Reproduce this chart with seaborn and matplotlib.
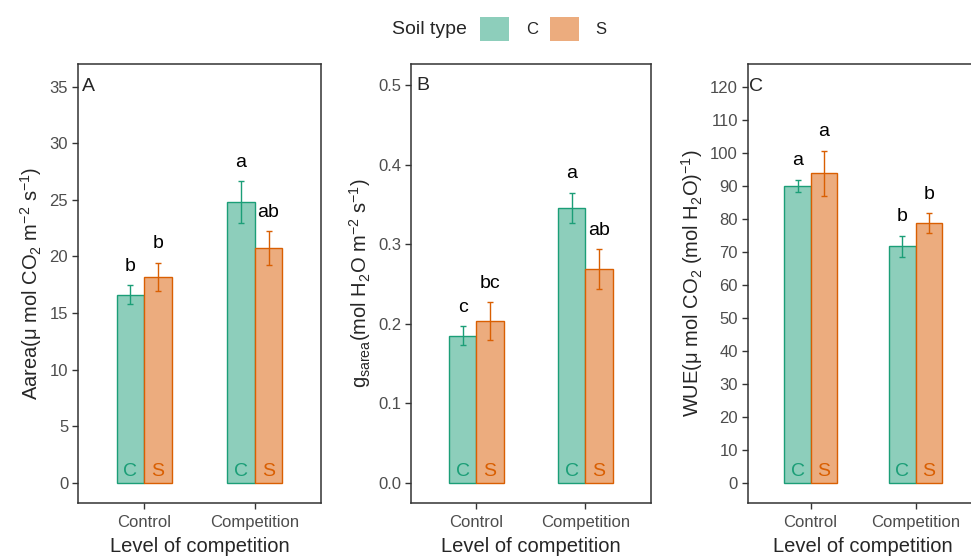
import pandas as pd
import matplotlib.pyplot as plt
import seaborn as sns
from matplotlib.patches import Patch

# values
levels = ["Control", "Competition"]
soils = ["C", "S"]

aarea_c = [16.6, 24.8]
aarea_s = [18.2, 20.7]
aarea_se_c = [0.85, 1.85]
aarea_se_s = [1.25, 1.5]
aarea_let_c = ["b", "a"]
aarea_let_s = ["b", "ab"]

gs_c = [0.185, 0.346]
gs_s = [0.203, 0.269]
gs_se_c = [0.012, 0.019]
gs_se_s = [0.024, 0.025]
gs_let_c = ["c", "a"]
gs_let_s = ["bc", "ab"]

wue_c = [90.0, 71.7]
wue_s = [93.8, 78.6]
wue_se_c = [1.8, 3.2]
wue_se_s = [6.8, 3.0]
wue_let_c = ["a", "b"]
wue_let_s = ["a", "b"]

fill_cols = {"C": "#8DCEBB", "S": "#ECAC7E"}
edge_cols = {"C": "#1B9E77", "S": "#D95F02"}

sns.set_style("white")
plt.rcParams["font.family"] = ["Liberation Sans", "DejaVu Sans"]
plt.rcParams["mathtext.fontset"] = "custom"
plt.rcParams["mathtext.rm"] = "Liberation Sans"
plt.rcParams["mathtext.it"] = "Liberation Sans:italic"


def make_df(vc, vs, sc, ss, lc, ls):
    rows = []
    for i, lev in enumerate(levels):
        rows.append({"level": lev, "soil": "C", "value": vc[i], "se": sc[i], "let": lc[i]})
        rows.append({"level": lev, "soil": "S", "value": vs[i], "se": ss[i], "let": ls[i]})
    return pd.DataFrame(rows)


panels = [
    dict(df=make_df(aarea_c, aarea_s, aarea_se_c, aarea_se_s, aarea_let_c, aarea_let_s),
         ylabel="Aarea(μ mol CO$_2$ m$^{-2}$ s$^{-1}$)", tag="A",
         ylim=(-1.77, 37.0), ticks=[0, 5, 10, 15, 20, 25, 30, 35], fmt="{:g}",
         pos=[0.0803, 0.0959, 0.2503, 0.789], tagx=-0.56),
    dict(df=make_df(gs_c, gs_s, gs_se_c, gs_se_s, gs_let_c, gs_let_s),
         ylabel="g$_{\\mathrm{sarea}}$(mol H$_2$O m$^{-2}$ s$^{-1}$)", tag="B",
         ylim=(-0.0252, 0.527), ticks=[0, 0.1, 0.2, 0.3, 0.4, 0.5], fmt="{:.1f}",
         pos=[0.4233, 0.0959, 0.2469, 0.789], tagx=-0.555),
    dict(df=make_df(wue_c, wue_s, wue_se_c, wue_se_s, wue_let_c, wue_let_s),
         ylabel="WUE(μ mol CO$_2$ (mol H$_2$O)$^{-1}$)", tag="C",
         ylim=(-6.06, 126.9), ticks=list(range(0, 121, 10)), fmt="{:g}",
         pos=[0.7700, 0.0959, 0.2377, 0.789], tagx=-0.59),
]

fig = plt.figure(figsize=(9.71, 5.56), dpi=100)

for p in panels:
    ax = fig.add_axes(p["pos"])
    df = p["df"]
    ymax = p["ticks"][-1]
    sns.barplot(data=df, x="level", y="value", hue="soil", order=levels, hue_order=soils,
                palette=fill_cols, width=0.5, saturation=1, errorbar=None,
                legend=False, ax=ax)
    for cont, soil in zip(ax.containers, soils):
        sub = df[df["soil"] == soil].set_index("level").loc[levels]
        for bar, (_, r) in zip(cont, sub.iterrows()):
            bar.set_edgecolor(edge_cols[soil])
            bar.set_linewidth(1.0)
            xc = bar.get_x() + bar.get_width() / 2
            ax.errorbar(xc, r["value"], yerr=r["se"], color=edge_cols[soil],
                        capsize=2.3, lw=1.0, capthick=1.0)
            ax.text(xc, r["value"] + r["se"] + 0.048 * ymax, r["let"],
                    ha="center", va="center", fontsize=14, color="black")
            ax.annotate(soil, (xc, 0), xytext=(0, 4.5), textcoords="offset points",
                        ha="center", va="baseline", fontsize=14, color=edge_cols[soil])

    ax.set_xlim(-0.6, 1.6)
    ax.set_ylim(*p["ylim"])
    ax.set_yticks(p["ticks"])
    ax.set_yticklabels([p["fmt"].format(t) for t in p["ticks"]])
    ax.text(p["tagx"], ymax, p["tag"], ha="left", va="center", fontsize=14)
    ax.set_xlabel("Level of competition", fontsize=14.5, labelpad=5)
    ax.set_ylabel(p["ylabel"], fontsize=14.5, labelpad=4)
    ax.tick_params(axis="both", which="both", direction="out", length=4, width=1,
                   color="#333333", labelcolor="#4D4D4D", labelsize=12,
                   left=True, bottom=True, pad=3)
    ax.tick_params(axis="x", pad=5)
    for s in ax.spines.values():
        s.set_visible(True)
        s.set_color("#333333")
        s.set_linewidth(1.1)

# legend across the top
fig.text(392 / 971, 1 - 30 / 556, "Soil type", ha="left", va="center", fontsize=14)
handles = [Patch(facecolor=fill_cols[s], edgecolor="none", label=s) for s in soils]
fig.legend(handles=handles, loc="center left", bbox_to_anchor=(480 / 971, 1 - 29 / 556),
           ncol=2, frameon=False, fontsize=12, handlelength=1.75, handleheight=1.75,
           handletextpad=1.0, columnspacing=0.7, borderpad=0, borderaxespad=0)

fig.savefig("out.png", dpi=100)
